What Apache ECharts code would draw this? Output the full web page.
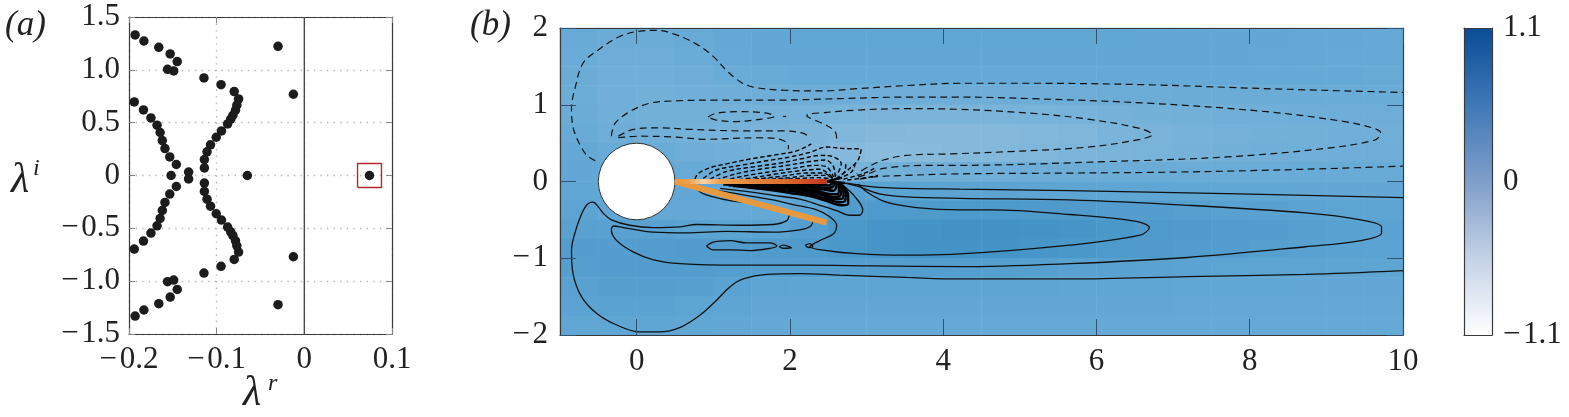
<!DOCTYPE html>
<html><head><meta charset="utf-8">
<style>html,body{margin:0;padding:0;background:#fff;overflow:hidden}#c{width:1569px;height:417px}</style>
<script src="https://cdn.jsdelivr.net/npm/echarts@6/dist/echarts.min.js"></script>
</head><body><div id="c"></div>
<script>
const conjugatePairs = [[-0.193,1.33],[-0.183,1.273],[-0.166,1.213],[-0.153,1.15],[-0.145,1.078],[-0.156,1.005],[-0.149,0.99],
[-0.1145,0.923],[-0.095,0.86],[-0.08,0.794],[-0.075,0.725],[-0.077,0.665],[-0.0785,0.618],[-0.0815,0.57],[-0.084,0.533],[-0.0875,0.488],
[-0.0945,0.422],[-0.1005,0.362],[-0.107,0.29],[-0.111,0.224],[-0.114,0.151],[-0.114,0.072],[-0.03,1.223],[-0.0125,0.769],
[-0.194,0.696],[-0.1835,0.621],[-0.175,0.545],[-0.168,0.476],[-0.1645,0.407],[-0.162,0.331],[-0.159,0.255],[-0.1535,0.176],[-0.146,0.104],[-0.132,0.032]];
const realEigenvalues = [[-0.152,0],[-0.065,0],[0.0743,0]];
const unstableBox = [[0.0607,-0.113],[0.088,-0.113],[0.088,0.113],[0.0607,0.113],[0.0607,-0.113]];
const zeroLine = [[0,-1.5],[0,1.5]];
const ticksAX = [-0.2,-0.1,0,0.1];
const ticksAY = [-1.5,-1,-0.5,0,0.5,1,1.5];
const fieldX = [-0.75,-0.25,0.25,0.75,1.25,1.75,2.25,2.75,3.25,3.75,4.25,4.75,5.25,5.75,6.25,6.75,7.25,7.75,8.25,8.75,9.25,9.75];
const fieldY = [1.875,1.625,1.375,1.125,0.875,0.625,0.375,0.125,-0.125,-0.375,-0.625,-0.875,-1.125,-1.375,-1.625,-1.875];
const fieldRows = [
[-.02,-.05,-.05,-.02,0,.02,.03,.03,.03,.03,.03,.03,.03,.03,.03,.02,.02,.01,.01,0,0,-.01],
[-.04,-.07,-.07,-.04,-.01,.01,.02,.02,.02,.02,.02,.02,.02,.02,.02,.01,.01,.01,0,0,-.01,-.01],
[-.05,-.09,-.09,-.07,-.04,-.02,-.01,-.01,-.01,-.01,-.01,-.01,-.01,-.01,-.01,-.01,-.01,-.01,-.01,-.01,-.01,-.02],
[-.06,-.1,-.11,-.09,-.08,-.07,-.07,-.07,-.07,-.07,-.07,-.07,-.07,-.07,-.06,-.06,-.05,-.05,-.05,-.04,-.04,-.04],
[-.05,-.09,-.11,-.11,-.12,-.13,-.14,-.15,-.16,-.17,-.17,-.16,-.15,-.14,-.13,-.12,-.11,-.1,-.09,-.08,-.07,-.07],
[-.03,-.07,-.09,-.12,-.14,-.16,-.19,-.22,-.24,-.26,-.26,-.25,-.23,-.21,-.18,-.16,-.14,-.13,-.12,-.11,-.1,-.09],
[0,-.03,-.04,-.07,-.1,-.15,-.21,-.26,-.28,-.27,-.25,-.23,-.21,-.19,-.17,-.15,-.13,-.11,-.1,-.09,-.08,-.07],
[.02,0,0,-.02,-.06,-.12,-.18,-.15,-.12,-.1,-.09,-.08,-.07,-.06,-.06,-.05,-.05,-.04,-.04,-.03,-.03,-.03],
[.03,.02,.02,.02,0,.02,.05,.1,.08,.07,.06,.06,.05,.05,.04,.04,.03,.03,.03,.02,.02,.02],
[.06,.03,0,0,-.01,0,.05,.17,.19,.2,.21,.21,.2,.18,.16,.14,.12,.11,.1,.08,.07,.06],
[.1,.1,.1,.08,.07,.08,.15,.22,.26,.28,.3,.3,.28,.26,.23,.2,.18,.16,.14,.12,.1,.09],
[.14,.15,.16,.17,.17,.18,.2,.23,.26,.28,.28,.27,.25,.23,.2,.18,.16,.14,.12,.11,.09,.08],
[.13,.15,.16,.16,.15,.14,.14,.14,.14,.14,.14,.13,.12,.11,.1,.09,.08,.07,.06,.06,.05,.05],
[.11,.13,.13,.12,.09,.06,.05,.05,.05,.05,.05,.05,.05,.04,.04,.04,.03,.03,.03,.02,.02,.02],
[.08,.09,.09,.07,.05,.02,.01,.01,.01,.01,.01,.01,.01,.01,.01,.01,0,0,0,0,0,0],
[.03,.04,.04,.03,.01,0,-.01,-.01,-.01,-.01,-.01,-.01,-.01,-.01,-.01,-.01,-.01,-.01,-.01,-.01,-.01,-.01]];
const dashedContours = [
[[-.54,.27],[-.65,.34],[-.76,.52],[-.83,.71],[-.85,.95],[-.8,1.23],[-.7,1.54],[-.48,1.73],[-.22,1.89],[.04,1.96],[.26,1.97],[.52,1.91],[.78,1.79],[1,1.63],[1.17,1.45],[1.35,1.3],[1.52,1.23],[1.91,1.19],[2.43,1.18],[2.87,1.21],[3.52,1.25],[4.22,1.28],[5.14,1.28],[6.68,1.26],[8.2,1.21],[10,1.16]],
[[-.33,.59],[-.28,.76],[-.09,.91],[.17,1.02],[.48,1.05],[1,1.06],[1.78,1.06],[2.65,1.08],[3.52,1.1],[4.22,1.1],[5.14,1.08],[6.68,1.02],[8.22,.91],[9.24,.78],[9.63,.69],[9.71,.63],[9.63,.54],[8.98,.43],[7.7,.32],[6.16,.26],[4.11,.21],[3.74,.21],[3.22,.17],[3.02,.1],[2.87,.05]],
[[2.61,.56],[2.59,.65],[2.48,.73],[2.22,.86],[2.48,.9],[2.87,.93],[3.52,.95],[4.22,.94],[5.14,.89],[5.91,.81],[6.57,.69],[6.73,.61],[6.57,.55],[5.91,.45],[4.88,.39],[4.11,.36],[3.52,.34],[3.22,.28],[3.02,.19],[2.87,.1]],
[[2.91,.03],[3.09,.06],[3.52,.08],[4.22,.1],[5.65,.11],[7.19,.125],[8.73,.16],[10,.2]],
[[.93,.84],[1.04,.89],[1.35,.91],[1.7,.89],[1.8,.85],[1.61,.81],[1.26,.78],[1.04,.8],[.93,.84]],
[[1.91,.85],[1.95,.845]],
[[-.24,.59],[-.04,.68],[.3,.7],[.7,.68],[1.35,.66],[1.87,.66],[2.17,.63],[2.26,.57]],
[[-.24,.57],[.04,.59],[.48,.58],[.91,.55],[1.57,.57],[1.87,.55],[1.98,.47],[1.98,.42]]
];
const fanContours = [
[[.76,.03],[.8,.1],[.96,.18],[1.22,.24],[1.52,.3],[1.83,.35],[2.09,.4],[2.28,.49]],
[[.87,.04],[1.04,.15],[1.35,.21],[1.7,.27],[2,.32],[2.26,.38],[2.48,.45],[2.7,.43],[2.93,.42],[2.89,.28],[2.78,.17],[2.65,.07]],
[[.96,.03],[1.17,.13],[1.52,.19],[1.87,.24],[2.17,.3],[2.39,.34],[2.57,.32],[2.67,.23],[2.61,.08]],
[[1.04,.02],[1.3,.1],[1.61,.16],[1.96,.21],[2.26,.26],[2.46,.28],[2.57,.19],[2.59,.06]],
[[1.13,.01],[1.39,.07],[1.7,.12],[2.04,.17],[2.33,.21],[2.48,.19],[2.57,.06]],
[[1.24,.01],[1.52,.05],[1.83,.1],[2.13,.14],[2.39,.16],[2.56,.05]],
[[1.35,.01],[1.63,.04],[1.91,.07],[2.22,.11],[2.43,.11],[2.56,.04]],
[[1.48,.01],[1.74,.03],[2,.05],[2.28,.08],[2.48,.08],[2.56,.035]],
[[1.61,.005],[1.87,.025],[2.13,.04],[2.37,.05],[2.56,.03]],
[[2.62,.03],[2.8,.12],[2.85,.22]],
[[2.6,.04],[2.72,.14],[2.73,.26]],
[[2.7,.03],[2.95,.1],[3.1,.17]],
[[2.75,.02],[3,.05],[3.15,.08]]
];
const solidContours = [
[[1.99,-.44],[1.96,-.51],[1.78,-.56],[1.35,-.57],[.78,-.56],[.57,-.59],[.22,-.6],[-.09,-.57],[-.33,-.5],[-.43,-.42],[-.5,-.33],[-.57,-.27],[-.67,-.33],[-.78,-.59],[-.85,-.9],[-.83,-1.2],[-.72,-1.5],[-.52,-1.72],[-.26,-1.87],[.04,-1.96],[.3,-1.96],[.57,-1.9],[.83,-1.74],[1.04,-1.55],[1.22,-1.37],[1.39,-1.27],[1.7,-1.21],[2.13,-1.2],[2.65,-1.22],[3.52,-1.25],[4.22,-1.27],[5.65,-1.27],[7.19,-1.24],[8.73,-1.21],[10,-1.16]],
[[2.3,-.53],[2.26,-.59],[2.13,-.63],[1.78,-.66],[1.17,-.65],[.65,-.67],[.22,-.66],[-.17,-.6],[-.3,-.58],[-.33,-.63],[-.26,-.77],[-.04,-.92],[.22,-1.02],[.57,-1.07],[1.35,-1.09],[2.22,-1.09],[3.09,-1.1],[4.22,-1.11],[5.65,-1.07],[7.19,-.99],[8.73,-.85],[9.45,-.77],[9.72,-.67],[9.72,-.59],[9.45,-.5],[8.73,-.41],[7.19,-.31],[5.65,-.24],[4.22,-.22],[3.52,-.2],[3.17,-.16],[2.91,-.07],[2.76,-.03],[2.6,-.01]],
[[2.89,-.035],[3.04,-.16],[3.26,-.27],[3.65,-.34],[4.22,-.37],[4.63,-.37],[5.65,-.43],[6.52,-.52],[6.69,-.6],[6.57,-.7],[5.65,-.83],[4.11,-.95],[3.52,-.96],[2.87,-.94],[2.48,-.9],[2.26,-.85],[2.39,-.77],[2.57,-.68],[2.61,-.57],[2.52,-.46],[2.35,-.37],[2.04,-.3],[1.78,-.24],[1.43,-.18],[1.17,-.135],[.83,-.09]],
[[2.74,-.02],[3.09,-.07],[3.52,-.09],[4.22,-.1],[5.65,-.12],[7.7,-.157],[10,-.21]],
[[.91,-.84],[1,-.79],[1.22,-.77],[1.43,-.8],[1.74,-.8],[1.83,-.84],[1.74,-.87],[1.48,-.9],[1.22,-.89],[1,-.89],[.91,-.84]],
[[1.86,-.85],[1.91,-.83],[2.02,-.865],[1.91,-.87],[1.86,-.85]],
[[2.2,-.83],[2.26,-.81],[2.3,-.85],[2.24,-.86],[2.2,-.83]],
[[.76,-.07],[.85,-.15],[1,-.2],[1.22,-.25],[1.39,-.27]],
[[2.67,-.03],[2.85,-.2],[2.95,-.37],[2.91,-.44],[2.78,-.44],[2.61,-.38],[2.39,-.31],[2.13,-.23],[1.78,-.18],[1.43,-.13],[1.09,-.09]]
];
const wedgeContours = [
[[2.66,-.035],[2.76,-.18],[2.76,-.29],[2.67,-.31],[2.52,-.27],[2.3,-.2],[2,-.15],[1.65,-.1],[1.26,-.06]],
[[2.65,-.03],[2.73,-.16],[2.72,-.25],[2.64,-.27],[2.47,-.225],[2.23,-.16],[1.94,-.115],[1.6,-.075],[1.2,-.05]],
[[2.64,-.03],[2.7,-.135],[2.69,-.22],[2.61,-.23],[2.43,-.18],[2.17,-.12],[1.87,-.083],[1.52,-.05],[1.13,-.04]],
[[2.63,-.02],[2.67,-.12],[2.65,-.19],[2.57,-.2],[2.39,-.15],[2.13,-.1],[1.82,-.07],[1.48,-.045]],
[[2.63,-.025],[2.64,-.11],[2.62,-.165],[2.54,-.165],[2.35,-.12],[2.09,-.08],[1.78,-.057],[1.43,-.035]],
[[2.61,-.02],[2.6,-.09],[2.57,-.12],[2.48,-.11],[2.26,-.08],[2,-.057],[1.7,-.035],[1.35,-.02]],
[[2.59,-.015],[2.56,-.07],[2.48,-.083],[2.26,-.057],[1.96,-.03],[1.61,-.02]],
[[2.57,-.01],[2.5,-.05],[2.3,-.035],[2,-.02],[1.7,-.012]],
[[2.48,0],[2.72,-.02]],
[[2.48,0],[2.68,.05]]
];
const upperPlate = [[.5,0],[2.48,0]];
const lowerPlate = [[.5,0],[2.48,-.535]];
const cylinder = [[0,0,.5]];
const ticksBX = [0,2,4,6,8,10];
const ticksBY = [-2,-1,0,1,2];
const ticksBar = [-1.1,0,1.1];
const FONT = 'Liberation Serif', INK = '#222', FS = 31;
const minus = s => String(s).replace('-', '\u2212\u200a');
const tickFmt1 = v => v === 0 ? '0' : minus(v.toFixed(1));
const tickFmtPlain = v => minus(v);
const labelStyle = (m, fmt, values) => ({show:true, margin:m, fontFamily:FONT, fontSize:FS, color:INK, formatter:fmt,
  showMinLabel:true, showMaxLabel:true, hideOverlap:false, ...(values?{customValues:values}:{})});
function axis(o){
  return Object.assign({type:'value', axisLine:{show:true,onZero:false,lineStyle:{color:'#3a3a3a',width:1.2}},
    axisTick:{show:false}, axisLabel:{show:false}, splitLine:{show:false}}, o);
}
const dots = {show:true, lineStyle:{color:'#b5b5b5', width:1.4, type:[1.4,5.2]}};
const grayTick = {show:true, inside:true, length:6, lineStyle:{color:'#888',width:1}};
const blueTick = {show:true, inside:true, length:16, lineStyle:{color:'#33526f',width:1}};
const blueTickX = {...blueTick, customValues:ticksBX};
const aX = {min:-0.2,max:0.1}, aY = {min:-1.5,max:1.5}, bX = {min:-1,max:10}, bY = {min:-2,max:2}, cY = {min:-1.1,max:1.1};
const heatData = [];
fieldRows.forEach((row, r) => row.forEach((v, c) => heatData.push([c, fieldY.length - 1 - r, v])));
const contourBase = {type:'line', xAxisIndex:2, yAxisIndex:2, symbol:'none', silent:true, smooth:0.35, z:4, animation:false};
const series = [
 {type:'heatmap', xAxisIndex:4, yAxisIndex:4, data:heatData, silent:true, z:1, progressive:0, animation:false},
 {type:'line', xAxisIndex:5, yAxisIndex:5, data:[], silent:true},
 {type:'line', xAxisIndex:0, yAxisIndex:0, data:zeroLine, symbol:'none', silent:true, z:2, lineStyle:{color:'#4a4a4a',width:1.4}},
 {type:'scatter', xAxisIndex:0, yAxisIndex:0, symbolSize:9.5, silent:true, z:3, itemStyle:{color:'#1c1c1c',opacity:1},
  data:conjugatePairs.concat(conjugatePairs.map(p=>[p[0],-p[1]]), realEigenvalues)},
 {type:'line', xAxisIndex:0, yAxisIndex:0, data:unstableBox, symbol:'none', silent:true, z:3, lineStyle:{color:'#b02a2e',width:1.4}},
];
dashedContours.forEach(d => series.push({...contourBase, data:d, lineStyle:{color:'#111',width:1.2,type:[7,4.5]}}));
fanContours.forEach(d => series.push({...contourBase, data:d, lineStyle:{color:'#000',width:1.4,type:[4.5,2.6]}}));
solidContours.forEach(d => series.push({...contourBase, data:d, lineStyle:{color:'#111',width:1.3}}));
wedgeContours.forEach(d => series.push({...contourBase, data:d, lineStyle:{color:'#000',width:2.4}}));
series.push({type:'custom', xAxisIndex:2, yAxisIndex:2, z:5, silent:true, data:cylinder, clip:false,
  renderItem:(p,api)=>{const c=api.coord([api.value(0),api.value(1)]);const s=api.size([api.value(2),api.value(2)]);
   return {type:'circle',shape:{cx:c[0],cy:c[1],r:s[0]},style:{fill:'#fff',stroke:'#333',lineWidth:1}};}});
series.push({...contourBase, data:lowerPlate, smooth:false, z:6, lineStyle:{color:'#e8983f',width:6,cap:'butt'}});
series.push({...contourBase, data:upperPlate, smooth:false, z:7, lineStyle:{width:5,cap:'butt',color:{type:'linear',x:0,y:0,x2:1,y2:0,colorStops:[
  {offset:0,color:'#e8983f'},{offset:.1,color:'#eda04a'},{offset:.2,color:'#f6d2a6'},{offset:.3,color:'#eea24f'},{offset:.7,color:'#dd6f2f'},{offset:1,color:'#c2301f'}]}}});
const txt = (text,x,y,size,extra) => ({type:'text',left:x,top:y,z:20,silent:true,
  style:{text,fontFamily:FONT,fontSize:size,fontStyle:'italic',fill:INK,...(extra||{})}});
const option = {
 animation:false, backgroundColor:'#fff',
 grid:[
  {left:129,top:17,width:263,height:317},
  {left:560,top:28,width:843,height:307},
  {left:560,top:28,width:843,height:307},
  {left:1464,top:28,width:28,height:307}],
 xAxis:[
  axis({gridIndex:0,position:'bottom',...aX,interval:0.1,splitLine:dots,axisTick:grayTick,axisLabel:labelStyle(10,tickFmt1,ticksAX)}),
  axis({gridIndex:0,position:'top',...aX,interval:0.1,axisTick:grayTick}),
  axis({gridIndex:1,position:'bottom',...bX,z:8,axisTick:blueTickX,axisLabel:labelStyle(11,tickFmtPlain,ticksBX)}),
  axis({gridIndex:1,position:'top',...bX,z:8,axisTick:blueTickX}),
  {type:'category',gridIndex:2,data:fieldX,show:false},
  axis({gridIndex:3,position:'bottom',min:0,max:1,z:8}),
  axis({gridIndex:3,position:'top',min:0,max:1,z:8})],
 yAxis:[
  axis({gridIndex:0,position:'left',...aY,interval:0.5,splitLine:dots,axisTick:grayTick,axisLabel:labelStyle(9,tickFmt1,ticksAY)}),
  axis({gridIndex:0,position:'right',...aY,interval:0.5,axisTick:grayTick}),
  axis({gridIndex:1,position:'left',...bY,interval:1,z:8,axisTick:blueTick,axisLabel:labelStyle(12,tickFmtPlain,ticksBY)}),
  axis({gridIndex:1,position:'right',...bY,interval:1,z:8,axisTick:blueTick}),
  {type:'category',gridIndex:2,data:fieldY.slice().reverse(),show:false},
  axis({gridIndex:3,position:'left',...cY,z:8}),
  axis({gridIndex:3,position:'right',...cY,z:8,axisLabel:labelStyle(11,v=>minus(v),ticksBar)})],
 visualMap:[
  {type:'continuous',seriesIndex:0,min:-0.3,max:0.3,show:false,inRange:{color:['#8bbcdc','#64a9d6','#4292c6']}},
  {type:'continuous',seriesIndex:1,min:-1.1,max:1.1,show:true,calculable:false,showLabel:false,text:null,padding:0,
   left:1464,top:28,itemWidth:28,itemHeight:307,z:2,inRange:{color:['#ffffff','#c3d2e6','#7f9fc9','#3f78b6','#0a4d96']}}],
 series,
 graphic:[
  txt('(a)',5,8,35), txt('(b)',470,8,35),
  txt('\u03bb',11,160,42), txt('i',33,157,24),
  txt('\u03bb',243,373,42), txt('r',268,372,24)]
};
echarts.init(document.getElementById('c'),null,{renderer:'canvas'}).setOption(option);
</script></body></html>
